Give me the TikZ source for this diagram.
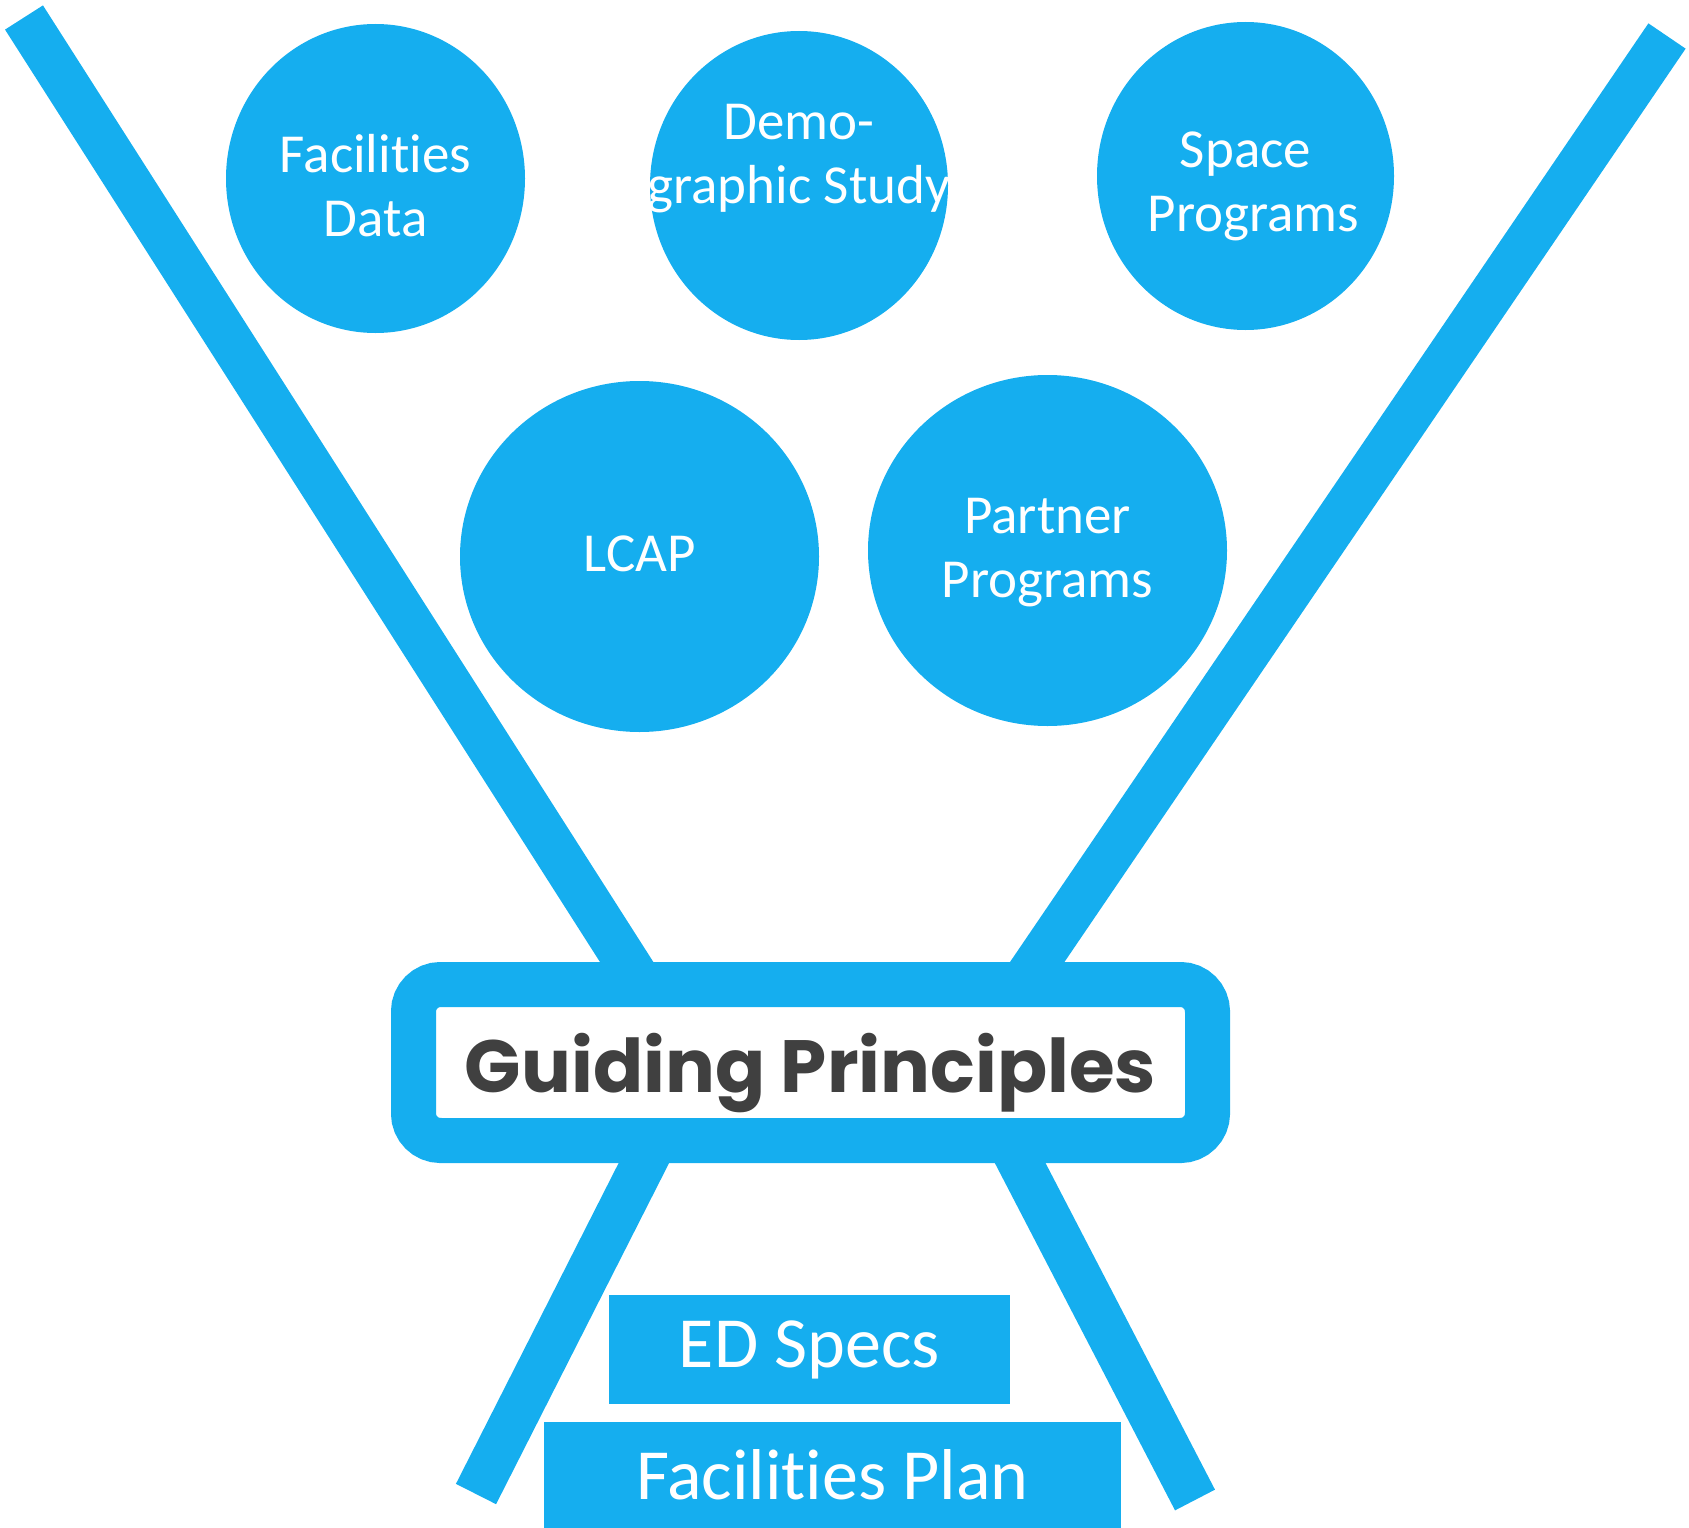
\documentclass[tikz,border=0pt]{standalone}
\usepackage{fontspec}
\setmainfont{Carlito}[Ligatures=NoCommon,Contextuals=NoAlternate]
\newfontfamily\headfont{Poppins}
\usetikzlibrary{shapes.geometric,calc,backgrounds}
\definecolor{planblue}{RGB}{21,174,239}
\definecolor{plangray}{RGB}{64,64,64}
% lines of a bubble, first baseline raised by #1 above the centre
\newcommand{\bubbletext}[2]{\raisebox{#1}[0pt][0pt]{\begin{tabular}[t]{@{}c@{}}#2\end{tabular}}}

\begin{document}
\begin{tikzpicture}[
            x=1pt,y=-1pt,
            bubble/.style={ellipse,fill=planblue,text=white,inner sep=0pt,
                font=\fontsize{55}{64}\selectfont},
            plate/.style={rectangle,fill=planblue,text=white,inner sep=0pt,
                font=\fontsize{72}{80}\selectfont},
            beam/.style={planblue,line width=45pt}
        ]
        \useasboundingbox (0,0) rectangle (1689,1528);

        \node[bubble,minimum width=299pt,minimum height=309pt] (facdata) at (375.5,178.5) {\bubbletext{6pt}{Facilities\\Data}};
        \node[bubble,minimum width=298pt,minimum height=309pt] (demo) at (799,185.5) {\bubbletext{46pt}{Demo-\\\makebox[0pt]{graphic Study}}};
        \node[bubble,minimum width=297pt,minimum height=308pt] (space) at (1245.5,176) {\bubbletext{9pt}{Space\\\makebox[0pt]{\hspace*{16pt}Programs}}};
        \node[bubble,minimum width=359pt,minimum height=351pt] (lcap) at (639.5,556.5) {\bubbletext{-14.5pt}{LCAP}};
        \node[bubble,minimum width=359pt,minimum height=351pt] (partner) at (1047.5,550.5) {\bubbletext{17pt}{Partner\\Programs}};

        \node[rectangle,draw=planblue,fill=white,line width=45pt,rounded corners=27pt,
              minimum width=794pt,minimum height=156pt,text=plangray,text depth=0pt,
              font=\headfont\bfseries\fontsize{74}{80}\selectfont] (guide) at (810.5,1062.5) {Guiding Principles};

        \node[plate,minimum width=401pt,minimum height=109pt] (edspecs) at (809.5,1349.5) {ED Specs};
        \node[plate,minimum width=577pt,minimum height=106pt] (facplan) at (832.5,1475) {Facilities Plan};

        \coordinate (topleft) at (24,17.5);
        \coordinate (topright) at (1667,36);
        \coordinate (footleft) at (476,1494);
        \coordinate (footright) at (1195,1500);

        \begin{scope}[on background layer]
            \draw[beam] (topleft) -- ($(guide.north west)!0.298!(guide.north east)+(0,22.5)$);
            \draw[beam] (topright) -- ($(guide.north west)!0.752!(guide.north east)+(0,22.5)$);
            \draw[beam] (footleft) -- ($(guide.south west)!0.315!(guide.south east)+(0,-22.5)$);
            \draw[beam] (footright) -- ($(guide.south west)!0.736!(guide.south east)+(0,-22.5)$);
        \end{scope}
    \end{tikzpicture}
\end{document}
